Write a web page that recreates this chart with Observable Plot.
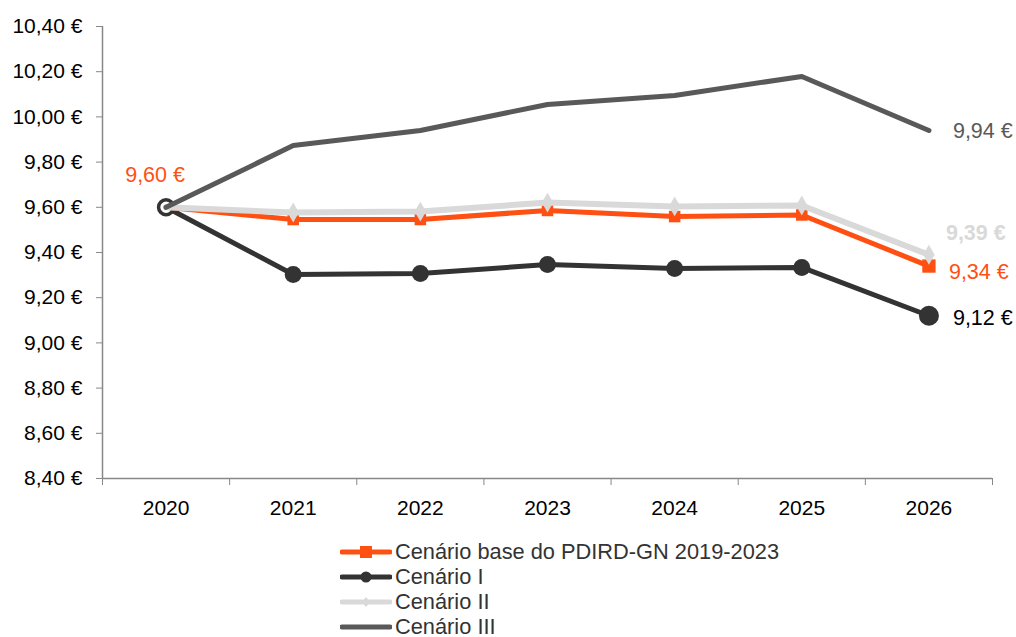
<!DOCTYPE html>
<html>
<head>
<meta charset="utf-8">
<script src="https://cdn.jsdelivr.net/npm/d3@7"></script>
<script src="https://cdn.jsdelivr.net/npm/@observablehq/plot@0.6"></script>
<style>
  html, body { margin: 0; padding: 0; background: #fff; }
  body { width: 1016px; height: 637px; overflow: hidden; font-family: "Liberation Sans", Arial, sans-serif; }
  #legend { margin-left: 340px; padding-top: 4px; }
  .row { display: flex; align-items: center; height: 25px; font-size: 21.8px; color: #333; }
  .row svg { margin-right: 3px; }
</style>
</head>
<body>
<div id="chart"></div>
<div id="legend"></div>
<script>
const years = [2020, 2021, 2022, 2023, 2024, 2025, 2026];
const base = [9.60, 9.546, 9.546, 9.586, 9.559, 9.566, 9.34];
const cen1 = [9.60, 9.303, 9.307, 9.347, 9.329, 9.334, 9.12];
const cen2 = [9.60, 9.577, 9.581, 9.621, 9.604, 9.608, 9.39];
const cen3 = [9.60, 9.873, 9.940, 10.055, 10.095, 10.179, 9.94];
const seriesNames = ["Cenário base do PDIRD-GN 2019-2023", "Cenário I", "Cenário II", "Cenário III"];
const colors = ["#FF5014", "#333333", "#D9D9D9", "#595959"];
const yTicks = [8.4, 8.6, 8.8, 9.0, 9.2, 9.4, 9.6, 9.8, 10.0, 10.2, 10.4];

const fmt = v => d3.format(".2f")(v).replace(".", ",") + " €";
const mk = (vals) => years.map((y, i) => ({year: y, value: vals[i]}));
const dBase = mk(base), d1 = mk(cen1), d2 = mk(cen2), d3s = mk(cen3);
const last = arr => [arr[arr.length - 1]];
const first = arr => [arr[0]];
const middle = arr => arr.slice(1, arr.length - 1);
const bounds = years.map(y => y - 0.5).concat([years[years.length - 1] + 0.5]);

const chart = Plot.plot({
  width: 1016,
  height: 535,
  marginLeft: 102,
  marginRight: 24,
  marginTop: 26,
  marginBottom: 57,
  style: {fontFamily: "Liberation Sans, Arial, sans-serif", fontSize: "21px", color: "#000", background: "#fff"},
  x: {type: "linear", domain: [2019.5, 2026.5]},
  y: {domain: [8.4, 10.4]},
  marks: [
    Plot.axisY({ticks: yTicks, tickFormat: fmt, tickSize: 6, tickPadding: 14, stroke: "#888", fill: "#000", label: null, fontSize: 21}),
    Plot.axisX({ticks: bounds, tickFormat: () => "", tickSize: 7, stroke: "#888", label: null}),
    Plot.axisX({ticks: years, tickFormat: d => String(d), tickSize: 0, tickPadding: 22, label: null, fill: "#000", fontSize: 21}),
    Plot.ruleX([2019.5], {stroke: "#888", strokeWidth: 1.5}),
    Plot.ruleY([8.4], {stroke: "#888", strokeWidth: 1.5}),
    // Cenário I
    Plot.line(d1, {x: "year", y: "value", stroke: colors[1], strokeWidth: 5}),
    Plot.dot(first(d1), {x: "year", y: "value", r: 7.5, fill: "#fff", stroke: colors[1], strokeWidth: 3.5}),
    Plot.dot(middle(d1), {x: "year", y: "value", r: 8.5, fill: colors[1]}),
    Plot.dot(last(d1), {x: "year", y: "value", r: 10, fill: colors[1]}),
    // Base
    Plot.line(dBase, {x: "year", y: "value", stroke: colors[0], strokeWidth: 5}),
    Plot.dot(middle(dBase), {x: "year", y: "value", symbol: "square", r: 6.5, fill: colors[0]}),
    Plot.dot(last(dBase), {x: "year", y: "value", symbol: "square", r: 7.5, fill: colors[0]}),
    // Cenário II
    Plot.line(d2, {x: "year", y: "value", stroke: colors[2], strokeWidth: 6}),
    Plot.dot(d2.slice(1), {x: "year", y: "value", symbol: "diamond", r: 6, fill: colors[2]}),
    // Cenário III
    Plot.line(d3s, {x: "year", y: "value", stroke: colors[3], strokeWidth: 5}),
    // Labels
    Plot.text(first(dBase), {x: "year", y: "value", text: d => fmt(d.value), fill: colors[0], dx: -11, dy: -32, fontSize: 21.5}),
    Plot.text(last(d3s), {x: "year", y: "value", text: d => fmt(d.value), fill: colors[3], textAnchor: "start", dx: 24, dy: 1, fontSize: 21.5}),
    Plot.text(last(d2), {x: "year", y: "value", text: d => fmt(d.value), fill: colors[2], textAnchor: "start", dx: 17, dy: -22, fontSize: 21.5, fontWeight: "bold"}),
    Plot.text(last(dBase), {x: "year", y: "value", text: d => fmt(d.value), fill: colors[0], textAnchor: "start", dx: 20, dy: 6, fontSize: 21.5}),
    Plot.text(last(d1), {x: "year", y: "value", text: d => fmt(d.value), fill: "#000", textAnchor: "start", dx: 24, dy: 2, fontSize: 21.5})
  ]
});
document.getElementById("chart").appendChild(chart);

// Legend
const legend = d3.select("#legend");
const markers = ["square", "circle", "diamond", null];
seriesNames.forEach((name, i) => {
  const row = legend.append("div").attr("class", "row");
  const svg = row.append("svg").attr("width", 52).attr("height", 20);
  svg.append("line").attr("x1", 2).attr("x2", 50).attr("y1", 10).attr("y2", 10)
    .attr("stroke", colors[i]).attr("stroke-width", 5).attr("stroke-linecap", "round");
  if (markers[i] === "square") svg.append("rect").attr("x", 20).attr("y", 4).attr("width", 12).attr("height", 12).attr("fill", colors[i]);
  if (markers[i] === "circle") svg.append("circle").attr("cx", 26).attr("cy", 10).attr("r", 5.5).attr("fill", colors[i]);
  if (markers[i] === "diamond") svg.append("path").attr("d", "M26,5 L30,10 L26,15 L22,10 Z").attr("fill", colors[i]);
  row.append("span").text(name);
});
</script>
</body>
</html>
